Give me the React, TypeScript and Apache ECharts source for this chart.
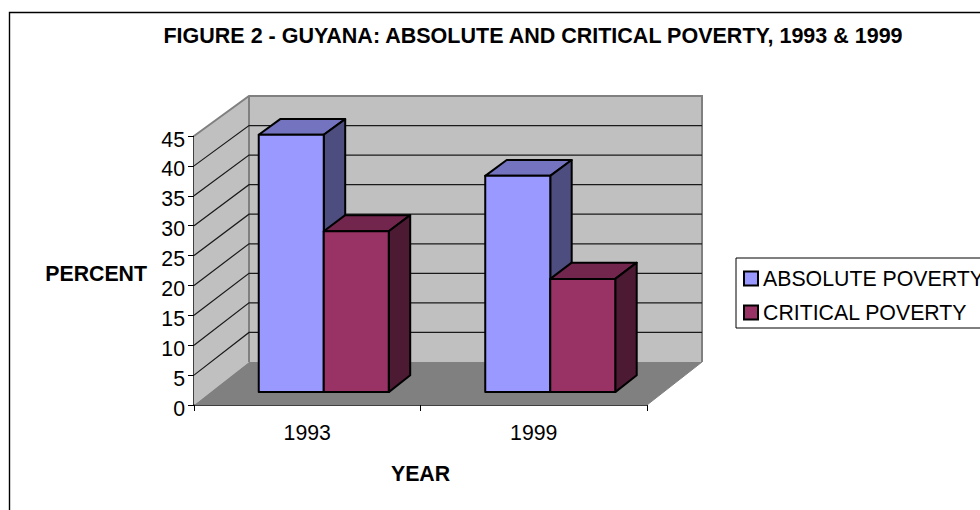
import React, { useEffect, useRef } from "react";
import * as echarts from "echarts";

const titleText = "FIGURE 2 - GUYANA: ABSOLUTE AND CRITICAL POVERTY, 1993 & 1999";
const categories = ["1993", "1999"];
const absolutePoverty = [43.2, 36.3];
const criticalPoverty = [27.0, 19.0];
const gridValues = [0, 5, 10, 15, 20, 25, 30, 35, 40, 45];

const FONT = '"Liberation Sans", Arial, sans-serif';
const FS = 21.3;
const Y_MAX = 45;
const DEPTH_X = 55;
const DEPTH_Y = -43;
const DEPTH_Y_TOP = -40;
const BAR_FRONT = 0.3;
const BAR_BACK = 0.69;
const BAR_BAND = 0.287;

function project(api: any, cat: number, v: number, depth: number, band = 0) {
  const p = api.coord([cat, v]);
  const bw = api.size([1, 0])[0];
  const dy = DEPTH_Y + ((DEPTH_Y_TOP - DEPTH_Y) * v) / Y_MAX;
  return [p[0] + band * bw + depth * DEPTH_X, p[1] + depth * dy];
}

function renderWalls(_params: any, api: any) {
  const last = categories.length - 1;
  const fl = project(api, 0, 0, 0, -0.5);
  const fr = project(api, last, 0, 0, 0.5);
  const bl = project(api, 0, 0, 1, -0.5);
  const br = project(api, last, 0, 1, 0.5);
  const tf = project(api, 0, Y_MAX, 0, -0.5);
  const tl = project(api, 0, Y_MAX, 1, -0.5);
  const tr = project(api, last, Y_MAX, 1, 0.5);
  const edge = { stroke: "#808080", lineWidth: 2 };
  return {
    type: "group",
    children: [
      { type: "polygon", shape: { points: [tf, tl, bl, fl] }, style: { fill: "#c0c0c0" } },
      { type: "polygon", shape: { points: [tl, tr, br, bl] }, style: { fill: "#c0c0c0" } },
      { type: "polygon", shape: { points: [fl, bl, br, fr] }, style: { fill: "#808080" } },
      { type: "polyline", shape: { points: [tf, tl, tr, br] }, style: { ...edge, fill: "none" } },
      { type: "line", shape: { x1: tl[0], y1: tl[1], x2: bl[0], y2: bl[1] }, style: edge },
      { type: "line", shape: { x1: br[0], y1: br[1], x2: fr[0], y2: fr[1] }, style: { stroke: "#808080", lineWidth: 1 } },
    ],
  };
}

function renderGridLine(_params: any, api: any) {
  const v = api.value(1);
  if (v === 0 || v === Y_MAX) return { type: "group", children: [] };
  const last = categories.length - 1;
  const a = project(api, 0, v, 0, -0.5);
  const b = project(api, 0, v, 1, -0.5);
  const c = project(api, last, v, 1, 0.5);
  return {
    type: "polyline",
    shape: { points: [a, b, c] },
    style: { stroke: "#1a1a1a", lineWidth: 1.2, fill: "none" },
  };
}

function makeBar(front: string, top: string, side: string, start: number) {
  return (_params: any, api: any) => {
    const cat = api.value(0);
    const v = api.value(1);
    const l = start;
    const r = start + BAR_BAND;
    const f0 = project(api, cat, 0, BAR_FRONT, l);
    const f1 = project(api, cat, 0, BAR_FRONT, r);
    const f2 = project(api, cat, v, BAR_FRONT, r);
    const f3 = project(api, cat, v, BAR_FRONT, l);
    const b1 = project(api, cat, 0, BAR_BACK, r);
    const b2 = project(api, cat, v, BAR_BACK, r);
    const b3 = project(api, cat, v, BAR_BACK, l);
    const line = { stroke: "#000", lineWidth: 2, lineJoin: "round" };
    return {
      type: "group",
      children: [
        { type: "polygon", shape: { points: [f3, f2, b2, b3] }, style: { ...line, fill: top } },
        { type: "polygon", shape: { points: [f1, b1, b2, f2] }, style: { ...line, fill: side } },
        { type: "polygon", shape: { points: [f0, f1, f2, f3] }, style: { ...line, fill: front } },
      ],
    };
  };
}

export default function App() {
  const ref = useRef<HTMLDivElement>(null);
  useEffect(() => {
    if (!ref.current) return;
    const chart = echarts.init(ref.current, undefined, { renderer: "svg" });
    chart.setOption({
      animation: false,
      backgroundColor: "#ffffff",
      textStyle: { fontFamily: FONT },
      title: {
        text: titleText,
        left: 528,
        top: 20,
        textAlign: "center",
        textStyle: { fontFamily: FONT, fontSize: 21.5, fontWeight: "bold", color: "#000" },
      },
      grid: { left: 194, top: 136, width: 453, height: 269 },
      xAxis: {
        type: "category",
        data: categories,
        name: "YEAR",
        nameLocation: "middle",
        nameGap: 58,
        nameTextStyle: { fontFamily: FONT, fontSize: FS, fontWeight: "bold", color: "#000" },
        axisLine: { lineStyle: { color: "#000", width: 1.5 } },
        axisTick: { show: true, length: 6, lineStyle: { color: "#000", width: 1 } },
        axisLabel: { fontFamily: FONT, fontSize: FS, color: "#000", margin: 17 },
      },
      yAxis: {
        type: "value",
        min: 0,
        max: Y_MAX,
        interval: 5,
        name: "PERCENT",
        nameLocation: "middle",
        nameRotate: 0,
        nameGap: 47,
        nameTextStyle: { fontFamily: FONT, fontSize: FS, fontWeight: "bold", color: "#000", align: "right", verticalAlign: "top", lineHeight: 7 },
        axisLine: { show: true, lineStyle: { color: "#000", width: 1.5 } },
        axisTick: { show: true, length: 6, lineStyle: { color: "#000", width: 1 } },
        axisLabel: { fontFamily: FONT, fontSize: FS, color: "#000", margin: 9, verticalAlign: "top", lineHeight: 7 },
        splitLine: { show: false },
      },
      legend: {
        orient: "vertical",
        left: 736,
        top: 258,
        padding: [10, 6, 5, 7],
        itemGap: 13,
        itemWidth: 14,
        itemHeight: 14,
        borderColor: "#000",
        borderWidth: 1,
        backgroundColor: "#fff",
        data: [
          { name: "ABSOLUTE POVERTY", icon: "rect", itemStyle: { color: "#9999ff", borderColor: "#000", borderWidth: 2 } },
          { name: "CRITICAL POVERTY", icon: "rect", itemStyle: { color: "#993366", borderColor: "#000", borderWidth: 2 } },
        ],
        textStyle: { fontFamily: FONT, fontSize: FS, color: "#000" },
      },
      graphic: [
        {
          type: "polyline",
          shape: { points: [[9.5, 510], [9.5, 12.5], [980, 12.5]] },
          style: { stroke: "#000", lineWidth: 1.4, fill: "none" },
        },
      ],
      series: [
        { type: "custom", name: "walls", silent: true, renderItem: renderWalls, data: [[0, 0]], encode: { x: 0, y: 1 }, z: 1 },
        { type: "custom", name: "gridlines", silent: true, renderItem: renderGridLine, data: gridValues.map((v) => [0, v]), encode: { x: 0, y: 1 }, z: 2 },
        {
          type: "custom",
          name: "ABSOLUTE POVERTY",
          renderItem: makeBar("#9999ff", "#7373bf", "#4d4d80", -BAR_BAND),
          data: absolutePoverty.map((v, i) => [i, v]),
          encode: { x: 0, y: 1 },
          itemStyle: { color: "#9999ff" },
          z: 3,
        },
        {
          type: "custom",
          name: "CRITICAL POVERTY",
          renderItem: makeBar("#993366", "#73264d", "#4d1a33", 0),
          data: criticalPoverty.map((v, i) => [i, v]),
          encode: { x: 0, y: 1 },
          itemStyle: { color: "#993366" },
          z: 4,
        },
      ],
    });
    return () => chart.dispose();
  }, []);
  return <div ref={ref} style={{ position: "absolute", left: 0, top: 0, width: 980, height: 510 }} />;
}
